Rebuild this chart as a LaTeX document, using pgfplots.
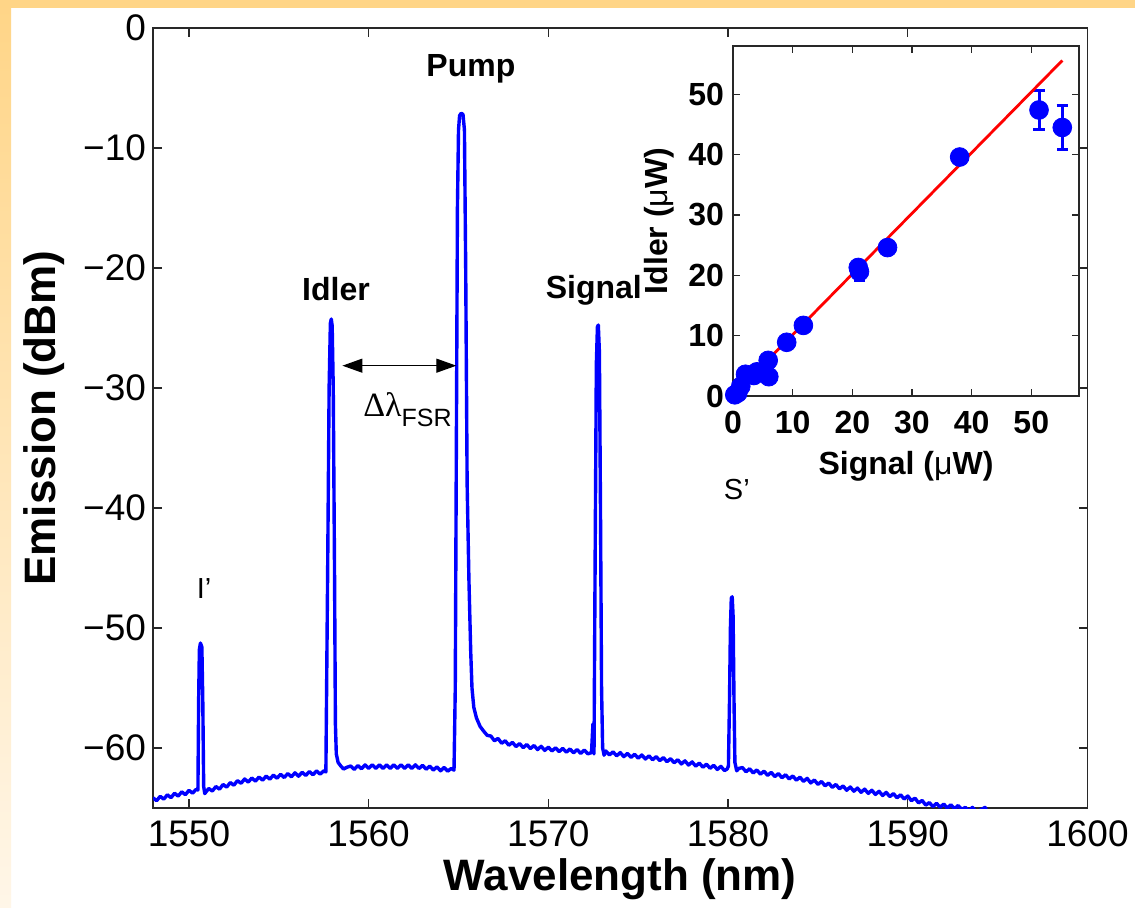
\documentclass[border=0pt]{standalone}
\usepackage{fontspec}
\setmainfont{Liberation Sans}
\newfontfamily\serifgreek{Liberation Serif}
\usepackage{pgfplots}
\pgfplotsset{compat=1.18}
\usetikzlibrary{arrows.meta}
\definecolor{frameorange}{RGB}{255,213,135}
\definecolor{framelight}{RGB}{255,246,232}
\definecolor{axisgray}{RGB}{40,40,40}
\begin{document}
\begin{tikzpicture}
\useasboundingbox (0,0) rectangle (567.5pt,-454pt);
\fill[white] (0,0) rectangle (567.5pt,-454pt);
\shade[top color=frameorange, bottom color=framelight] (0,0) rectangle (5.5pt,-454pt);
\fill[frameorange] (0,0) rectangle (567.5pt,-4pt);
\begin{axis}[
  scale only axis, width=467.25pt, height=390pt,
  at={(76.5pt,-404pt)}, anchor=south west,
  xmin=1548, xmax=1600, ymin=-65, ymax=0,
  xtick={1550,1560,1570,1580,1590,1600},
  xticklabels={1550,1560,1570,1580,1590,1600},
  ytick={-60,-50,-40,-30,-20,-10,0},
  yticklabels={−60,−50,−40,−30,−20,−10,0},
  tick align=inside, major tick length=4.5pt,
  axis line style={axisgray, line width=0.6pt},
  every tick/.style={axisgray, line width=0.6pt},
  tick label style={font=\fontsize{18.5}{20}\selectfont},
  xticklabel style={yshift=-3pt},
  /pgf/number format/assume math mode=true,
  xlabel={Wavelength (nm)}, ylabel={Emission (dBm)},
  label style={font=\fontsize{22}{24}\selectfont\bfseries},
  xlabel style={yshift=1pt},
  ylabel style={yshift=2.5pt},
  clip=true,
]
\addplot[blue, line width=1.7pt, line join=round] coordinates {
(1548.0,-64.15) (1548.2,-64.39) (1548.4,-64.03) (1548.6,-64.26) (1548.8,-63.90) (1549.0,-64.14)
(1549.2,-63.77) (1549.4,-64.01) (1549.6,-63.65) (1549.8,-63.89) (1550.0,-63.53) (1550.2,-63.76)
(1550.4,-63.45) (1550.50,-63.5) (1550.54,-56) (1550.58,-51.8) (1550.64,-51.25) (1550.72,-51.6)
(1550.77,-56) (1550.82,-63.2) (1550.88,-63.8)
(1551.1,-63.37) (1551.3,-63.59) (1551.5,-63.21) (1551.7,-63.43) (1551.9,-63.04) (1552.1,-63.26)
(1552.3,-62.88) (1552.5,-63.10) (1552.7,-62.72) (1552.9,-62.94) (1553.1,-62.58) (1553.3,-62.84)
(1553.5,-62.50) (1553.7,-62.76) (1553.9,-62.42) (1554.1,-62.68) (1554.3,-62.34) (1554.5,-62.60)
(1554.7,-62.26) (1554.9,-62.52) (1555.1,-62.19) (1555.3,-62.46) (1555.5,-62.13) (1555.7,-62.40)
(1555.9,-62.07) (1556.1,-62.35) (1556.3,-62.02) (1556.5,-62.29) (1556.7,-61.96) (1556.9,-62.23)
(1557.1,-61.91) (1557.3,-62.18) (1557.5,-61.90) (1557.62,-62.0)
(1557.72,-45) (1557.80,-30) (1557.87,-24.6) (1557.92,-24.25) (1557.97,-24.8) (1558.03,-30)
(1558.10,-45) (1558.15,-58) (1558.20,-60.5) (1558.30,-61.2) (1558.45,-61.5) (1558.6,-61.75)
(1558.8,-61.6) (1559.0,-61.50) (1559.2,-61.78) (1559.4,-61.46) (1559.6,-61.73) (1559.8,-61.41)
(1560.0,-61.70) (1560.2,-61.40) (1560.4,-61.70) (1560.6,-61.40) (1560.8,-61.70) (1561.0,-61.40)
(1561.2,-61.70) (1561.4,-61.40) (1561.6,-61.70) (1561.8,-61.40) (1562.0,-61.70) (1562.2,-61.40)
(1562.4,-61.70) (1562.6,-61.40) (1562.8,-61.71) (1563.0,-61.44) (1563.2,-61.77) (1563.4,-61.51)
(1563.6,-61.84) (1563.8,-61.57) (1564.0,-61.90) (1564.2,-61.62) (1564.4,-61.93) (1564.6,-61.70)
(1564.75,-61.85)
(1564.82,-55) (1564.88,-35) (1564.94,-15) (1565.0,-8.5) (1565.06,-7.3) (1565.15,-7.1)
(1565.25,-7.2) (1565.33,-8.5) (1565.40,-20) (1565.48,-38) (1565.58,-46) (1565.68,-52)
(1565.75,-55) (1565.85,-56.6) (1566.0,-57.5) (1566.2,-58.2) (1566.4,-58.6) (1566.6,-58.95)
(1566.8,-59.0) (1567.0,-59.4) (1567.2,-59.2) (1567.4,-59.6) (1567.6,-59.4) (1567.8,-59.77)
(1568.0,-59.53) (1568.2,-59.88) (1568.4,-59.63) (1568.6,-59.97) (1568.8,-59.71) (1569.0,-60.05)
(1569.2,-59.79) (1569.4,-60.13) (1569.6,-59.86) (1569.8,-60.20) (1570.0,-59.93) (1570.2,-60.25)
(1570.4,-59.98) (1570.6,-60.30) (1570.8,-60.03) (1571.0,-60.35) (1571.2,-60.08) (1571.4,-60.40)
(1571.6,-60.13) (1571.8,-60.45) (1572.0,-60.17) (1572.2,-60.49) (1572.35,-60.4)
(1572.40,-60.4) (1572.48,-58.0) (1572.54,-60.5) (1572.60,-45) (1572.67,-28) (1572.73,-24.9)
(1572.78,-24.75) (1572.84,-27) (1572.90,-40) (1572.96,-55) (1573.02,-60.0) (1573.1,-60.6)
(1573.2,-60.25) (1573.4,-60.58) (1573.6,-60.32) (1573.8,-60.65) (1574.0,-60.38) (1574.2,-60.72)
(1574.4,-60.45) (1574.6,-60.78) (1574.8,-60.52) (1575.0,-60.85) (1575.2,-60.58) (1575.4,-60.92)
(1575.6,-60.65) (1575.8,-60.98) (1576.0,-60.72) (1576.2,-61.05) (1576.4,-60.80) (1576.6,-61.14)
(1576.8,-60.89) (1577.0,-61.23) (1577.2,-60.98) (1577.4,-61.33) (1577.6,-61.07) (1577.8,-61.42)
(1578.0,-61.16) (1578.2,-61.51) (1578.4,-61.26) (1578.6,-61.60) (1578.8,-61.35) (1579.0,-61.69)
(1579.2,-61.44) (1579.4,-61.79) (1579.6,-61.53) (1579.8,-61.88) (1579.95,-61.75)
(1580.02,-61.5) (1580.08,-56) (1580.13,-50) (1580.18,-47.5) (1580.23,-47.4) (1580.28,-49)
(1580.33,-56) (1580.38,-61.2) (1580.48,-61.9) (1580.6,-61.7)
(1580.8,-61.63) (1581.0,-61.98) (1581.2,-61.73) (1581.4,-62.08) (1581.6,-61.83) (1581.8,-62.18)
(1582.0,-61.93) (1582.2,-62.28) (1582.4,-62.03) (1582.6,-62.38) (1582.8,-62.13) (1583.0,-62.48)
(1583.2,-62.23) (1583.4,-62.58) (1583.6,-62.33) (1583.8,-62.68) (1584.0,-62.43) (1584.2,-62.78)
(1584.4,-62.53) (1584.6,-62.91) (1584.8,-62.67) (1585.0,-63.03) (1585.2,-62.79) (1585.4,-63.15)
(1585.6,-62.92) (1585.8,-63.28) (1586.0,-63.04) (1586.2,-63.40) (1586.4,-63.16) (1586.6,-63.52)
(1586.8,-63.25) (1587.0,-63.60) (1587.2,-63.34) (1587.4,-63.69) (1587.6,-63.43) (1587.8,-63.78)
(1588.0,-63.52) (1588.2,-63.87) (1588.4,-63.61) (1588.6,-63.96) (1588.8,-63.70) (1589.0,-64.05)
(1589.2,-63.80) (1589.4,-64.15) (1589.6,-63.90) (1589.8,-64.25) (1590.0,-64.00) (1590.2,-64.39)
(1590.4,-64.18) (1590.6,-64.57) (1590.8,-64.37) (1591.0,-64.76) (1591.2,-64.55) (1591.4,-64.88)
(1591.6,-64.61) (1591.8,-64.94) (1592.0,-64.67) (1592.2,-65.00) (1592.4,-64.73) (1592.6,-65.06)
(1592.8,-64.79) (1593.0,-65.12) (1593.2,-64.95) (1593.4,-65.25) (1593.6,-64.95) (1593.8,-65.3)
(1594.0,-65.2) (1594.3,-64.95) (1594.5,-65.5)
};
\draw[black, line width=0.6pt, {Triangle[length=10pt,width=7pt]}-{Triangle[length=10pt,width=7pt]}]
  (axis cs:1558.54,-28.14) -- (axis cs:1564.88,-28.14);
\node[anchor=base, font=\fontsize{16}{18}\selectfont\bfseries] at (axis cs:1565.69,-4.08) {Pump};
\node[anchor=base, font=\fontsize{16}{18}\selectfont\bfseries] at (axis cs:1558.18,-22.67) {Idler};
\node[anchor=base, font=\fontsize{16}{18}\selectfont\bfseries] at (axis cs:1572.53,-22.5) {Signal};
\node[anchor=base, font=\fontsize{14.5}{16}\selectfont] at (axis cs:1550.84,-47.58) {I’};
\node[anchor=base, font=\fontsize{14.5}{16}\selectfont] at (axis cs:1580.49,-39.3) {S’};
\node[anchor=base west, inner sep=0pt] at (axis cs:1559.68,-32.4)
  {{\serifgreek\fontsize{17}{19}\selectfont Δλ}\raisebox{-5pt}{\fontsize{12.5}{14}\selectfont FSR}};
\end{axis}
\begin{axis}[
  scale only axis, width=173pt, height=175pt,
  at={(366.5pt,-198pt)}, anchor=south west,
  xmin=0, xmax=58, ymin=0, ymax=58,
  xtick={0,10,20,30,40,50}, ytick={0,10,20,30,40,50},
  axis background/.style={fill=white},
  tick align=inside, major tick length=3.5pt,
  axis line style={axisgray, line width=0.6pt},
  every tick/.style={axisgray, line width=0.6pt},
  tick label style={font=\fontsize{16}{18}\selectfont\bfseries},
  xticklabel style={yshift=-4pt},
  yticklabel style={xshift=-1pt},
  /pgf/number format/assume math mode=true,
  xlabel={Signal ({\mdseries μ}W)}, ylabel={Idler ({\mdseries μ}W)},
  label style={font=\fontsize{16}{18}\selectfont\bfseries},
  xlabel style={yshift=-2pt},
  clip=false,
]
\addplot[blue, only marks, mark=*, mark size=4.7pt, mark options={fill=blue, draw=blue},
  error bars/.cd, y dir=both, y explicit,
  error bar style={blue, line width=1.5pt},
  error mark options={blue, line width=1.5pt, mark size=2.8pt, rotate=90}]
coordinates {
(0.3,0.2) +- (0,0.3)
(0.8,0.5) +- (0,0.3)
(1.3,1.6) +- (0,0.3)
(2.1,3.6) +- (0,0.3)
(3.5,3.4) +- (0,0.3)
(4.0,4.0) +- (0,0.3)
(5.9,5.9) +- (0,0.3)
(6.0,3.2) +- (0,0.3)
(9.0,8.9) +- (0,0.3)
(11.8,11.7) +- (0,0.3)
(21.0,21.3) +- (0,0.5)
(21.2,20.6) +- (0,1.5)
(25.9,24.6) +- (0,0.4)
(38.0,39.6) +- (0,0.5)
(51.3,47.4) +- (0,3.3)
(55.2,44.5) +- (0,3.7)
};
\addplot[red, line width=1.4pt] coordinates {(0.6,0.7) (55.2,55.6)};
\end{axis}
\end{tikzpicture}
\end{document}
